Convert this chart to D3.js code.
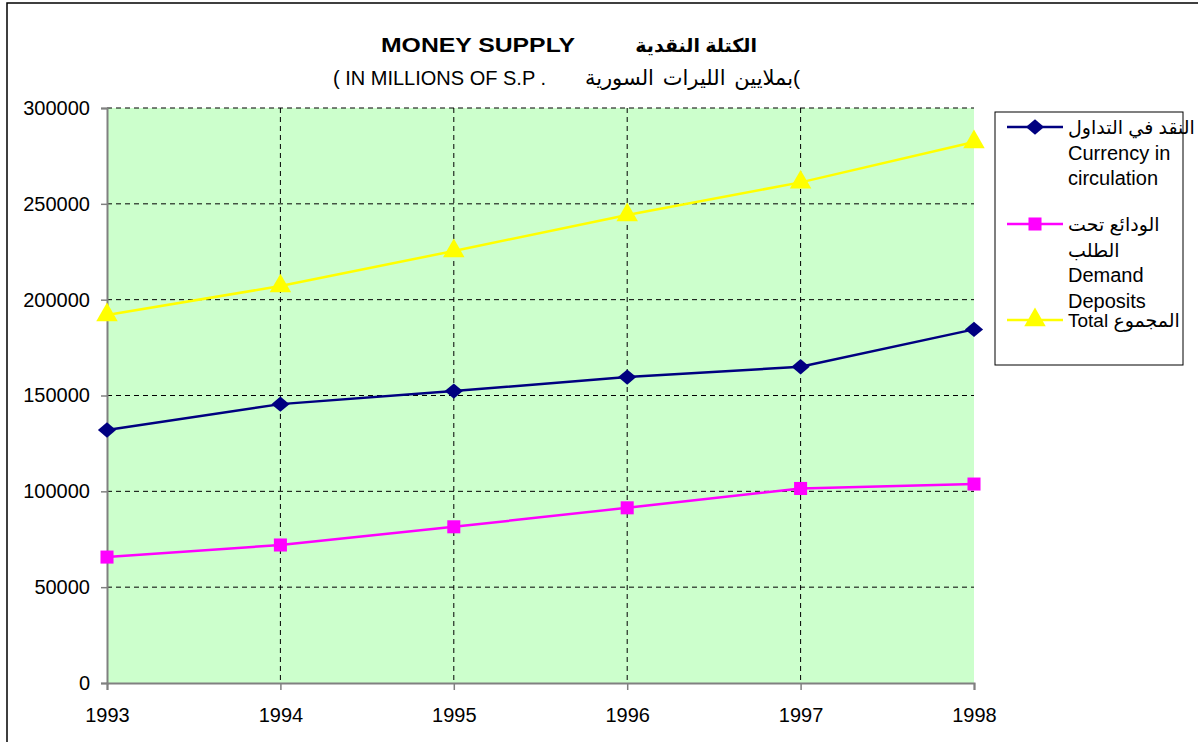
<!DOCTYPE html>
<html>
<head>
<meta charset="utf-8">
<script src="https://cdn.jsdelivr.net/npm/d3@7"></script>
<style>
  body { margin: 0; background: #fff; }
  svg { font-family: "Liberation Sans", Arial, "DejaVu Sans", sans-serif; }
</style>
</head>
<body>
<svg id="chart" width="1198" height="742"></svg>
<script>

// chart values
var years = [1993, 1994, 1995, 1996, 1997, 1998];
var currency = [132000, 145500, 152300, 159600, 165000, 184500];
var demand = [65700, 72000, 81500, 91400, 101500, 103800];
var total = [192000, 207100, 225400, 244200, 261200, 282300];
var yTicks = [0, 50000, 100000, 150000, 200000, 250000, 300000];

var series = [
  {name: ["النقد في التداول", "Currency in", "circulation"], values: currency,
   color: "#000080", marker: "diamond"},
  {name: ["الودائع تحت", "الطلب", "Demand", "Deposits"], values: demand,
   color: "#FF00FF", marker: "square"},
  {name: ["Total المجموع"], values: total, color: "#FFFF00", marker: "triangle"}
];

var svg = d3.select("#chart"),
    margin = {top: 108, left: 107, right: 974, bottom: 683};

var x = d3.scalePoint().domain(years).range([margin.left, margin.right]),
    y = d3.scaleLinear().domain([0, 300000]).range([margin.bottom, margin.top]);

// outer frame of the chart
svg.append("rect")
    .attr("x", 7).attr("y", 3)
    .attr("width", 1300).attr("height", 900)
    .attr("fill", "none").attr("stroke", "#000").attr("stroke-width", 1.5);

// plot background
svg.append("rect")
    .attr("x", margin.left).attr("y", margin.top)
    .attr("width", margin.right - margin.left)
    .attr("height", margin.bottom - margin.top)
    .attr("fill", "#CCFFCC");

// grid lines
svg.append("g").selectAll("line")
    .data(yTicks.filter(function(d) { return d > 0; }))
  .enter().append("line")
    .attr("x1", margin.left).attr("x2", margin.right)
    .attr("y1", function(d) { return y(d); }).attr("y2", function(d) { return y(d); })
    .attr("stroke", "#000").attr("stroke-dasharray", "5,4");

svg.append("g").selectAll("line")
    .data(years.slice(1, -1))
  .enter().append("line")
    .attr("x1", function(d) { return x(d); }).attr("x2", function(d) { return x(d); })
    .attr("y1", margin.top).attr("y2", margin.bottom)
    .attr("stroke", "#000").attr("stroke-dasharray", "5,4");

// axes
var yAxis = svg.append("g")
    .attr("transform", "translate(" + margin.left + ",0)")
    .call(d3.axisLeft(y).tickValues(yTicks).tickSize(6).tickPadding(11)
          .tickFormat(d3.format("d")));

var xAxis = svg.append("g")
    .attr("transform", "translate(0," + margin.bottom + ")")
    .call(d3.axisBottom(x).tickSize(7).tickPadding(18));

[yAxis, xAxis].forEach(function(a) {
  a.select(".domain").attr("stroke", "#808080").attr("stroke-width", 2);
  a.selectAll(".tick line").attr("stroke", "#808080").attr("stroke-width", 1.5);
  a.selectAll("text")
      .attr("font-family", "Liberation Sans, Arial, sans-serif")
      .attr("font-size", 20).attr("fill", "#000");
});
xAxis.selectAll(".tick text").attr("dy", "0.71em");

// markers
var symbols = {
  diamond: d3.symbol().type(d3.symbolDiamond2).size(210),
  square: d3.symbol().type(d3.symbolSquare).size(170),
  triangle: d3.symbol().type(d3.symbolTriangle).size(200)
};

function drawMarker(g, s, px, py) {
  g.append("path")
      .attr("d", symbols[s.marker]())
      .attr("transform", "translate(" + px + "," + py + ")" +
            (s.marker === "diamond" ? " scale(1,0.85)" : ""))
      .attr("fill", s.color);
}

var line = d3.line()
    .x(function(d, i) { return x(years[i]); })
    .y(function(d) { return y(d); });

series.forEach(function(s) {
  var g = svg.append("g");
  g.append("path")
      .attr("d", line(s.values))
      .attr("fill", "none")
      .attr("stroke", s.color)
      .attr("stroke-width", 2.5);
  s.values.forEach(function(v, i) { drawMarker(g, s, x(years[i]), y(v)); });
});

// titles
svg.append("text")
    .attr("x", 381).attr("y", 52)
    .attr("font-size", 20).attr("font-weight", "bold")
    .attr("textLength", 194).attr("lengthAdjust", "spacingAndGlyphs")
    .text("MONEY SUPPLY");

svg.append("text")
    .attr("x", 757).attr("y", 52)
    .attr("text-anchor", "end")
    .attr("font-size", 19).attr("font-weight", "bold")
    .text("الكتلة النقدية");

svg.append("text")
    .attr("x", 333).attr("y", 85)
    .attr("font-size", 20)
    .text("( IN MILLIONS OF S.P .");

svg.append("text")
    .attr("x", 800).attr("y", 85)
    .attr("text-anchor", "end")
    .attr("font-size", 21).attr("word-spacing", 3)
    .text("بملايين الليرات السورية(");

// legend
var legend = svg.append("g");
legend.append("rect")
    .attr("x", 995).attr("y", 112)
    .attr("width", 188).attr("height", 253)
    .attr("fill", "#fff").attr("stroke", "#000").attr("stroke-width", 1);

var legendRows = [127, 224, 320];
series.forEach(function(s, k) {
  var ly = legendRows[k];
  legend.append("line")
      .attr("x1", 1007).attr("x2", 1063)
      .attr("y1", ly).attr("y2", ly)
      .attr("stroke", s.color).attr("stroke-width", 2.5);
  drawMarker(legend, s, 1035, ly);
  s.name.forEach(function(t, j) {
    legend.append("text")
        .attr("x", 1068).attr("y", ly + 7 + j * 25.5)
        .attr("font-size", /[A-Za-z]/.test(t) && k < 2 ? 20 : 19)
        .text(t);
  });
});

</script>
</body>
</html>
